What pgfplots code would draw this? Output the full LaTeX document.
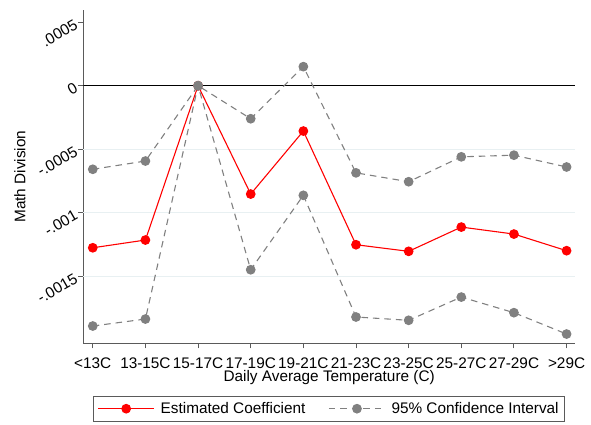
\documentclass[border=0pt]{standalone}
\usepackage{fontspec}
\setmainfont{Liberation Sans}
\usepackage{pgfplots}
\pgfplotsset{compat=1.18}
\usepackage{pgfplotstable}
\definecolor{cired}{RGB}{255,0,0}
\definecolor{cigray}{RGB}{128,128,128}
\definecolor{gridc}{RGB}{232,240,242}
\definecolor{axc}{RGB}{90,90,90}

\pgfplotstableread{
x est up lo
0 -0.001276 -0.000658 -0.001892
1 -0.001215 -0.000593 -0.001837
2 0 0 0
3 -0.000853 -0.000260 -0.001449
4 -0.000357 0.000150 -0.000863
5 -0.001252 -0.000686 -0.001821
6 -0.001304 -0.000756 -0.001847
7 -0.001113 -0.000560 -0.001664
8 -0.001168 -0.000547 -0.001787
9 -0.001299 -0.000640 -0.001955
}\data

\begin{document}
\begin{tikzpicture}
\begin{axis}[
  scale only axis,
  width=491.7bp, height=333.3bp,
  at={(0,0)}, anchor=south west,
  xmin=-0.18, xmax=9.16,
  ymin=-0.002028, ymax=0.000596,
  axis x line*=bottom, axis y line*=left,
  axis line style={axc, line width=0.9pt, -},
  tick style={axc, line width=0.9pt},
  tick align=outside,
  major tick length=5bp,
  font=\fontsize{15.4}{18}\selectfont,
  /pgf/number format/assume math mode=true,
  xtick={0,1,2,3,4,5,6,7,8,9},
  xticklabels={<13C,13-15C,15-17C,17-19C,19-21C,21-23C,23-25C,25-27C,27-29C,>29C},
  xticklabel style={yshift=-6bp},
  ytick={-0.0015,-0.001,-0.0005,0,0.0005},
  yticklabels={-.0015,-.001,-.0005,0,.0005},
  scaled y ticks=false,
  yticklabel style={rotate=30, anchor=east, xshift=1bp},
  extra y ticks={-0.0015,-0.001,-0.0005},
  extra y tick labels={},
  extra y tick style={ymajorgrids=true, major tick length=0bp},
  grid style={gridc, line width=0.9pt},
  xlabel={Daily Average Temperature (C)},
  ylabel={Math Division},
  xlabel style={at={(axis description cs:0.5,-0.104)}, anchor=center},
  ylabel style={at={(axis description cs:-0.1288,0.5)}, anchor=center},
  legend columns=2,
  legend style={at={(axis description cs:0.5,-0.158)}, anchor=north,
    draw=axc, line width=0.9pt, font=\fontsize{15.4}{18}\selectfont,
    /tikz/every even column/.append style={column sep=21bp},
    /tikz/every odd column/.append style={column sep=4bp},
    inner xsep=4bp, inner ysep=4bp},
  legend image code/.code={\draw[mark repeat=2,mark phase=2,#1] plot coordinates {(0bp,0bp) (28bp,0bp) (56bp,0bp)};},
]
\addplot[black, line width=1.1pt, forget plot] coordinates {(-0.18,0) (9.16,0)};
\addplot[cired, line width=1.1pt, mark=*, mark size=4.3bp, mark options={solid, fill=cired, draw=cired}] table[x=x, y=est] {\data};
\addlegendentry{Estimated Coefficient}
\addplot[cigray, line width=1.1pt, dash pattern=on 6.5bp off 5bp, mark=*, mark size=4.3bp, mark options={solid, fill=cigray, draw=cigray}] table[x=x, y=up] {\data};
\addlegendentry{95\% Confidence Interval}
\addplot[cigray, line width=1.1pt, dash pattern=on 6.5bp off 5bp, mark=*, mark size=4.3bp, mark options={solid, fill=cigray, draw=cigray}, forget plot] table[x=x, y=lo] {\data};
\end{axis}
\pgfresetboundingbox
\useasboundingbox (-83.3bp,-81.7bp) rectangle (507.7bp,343.3bp);
\end{tikzpicture}
\end{document}
